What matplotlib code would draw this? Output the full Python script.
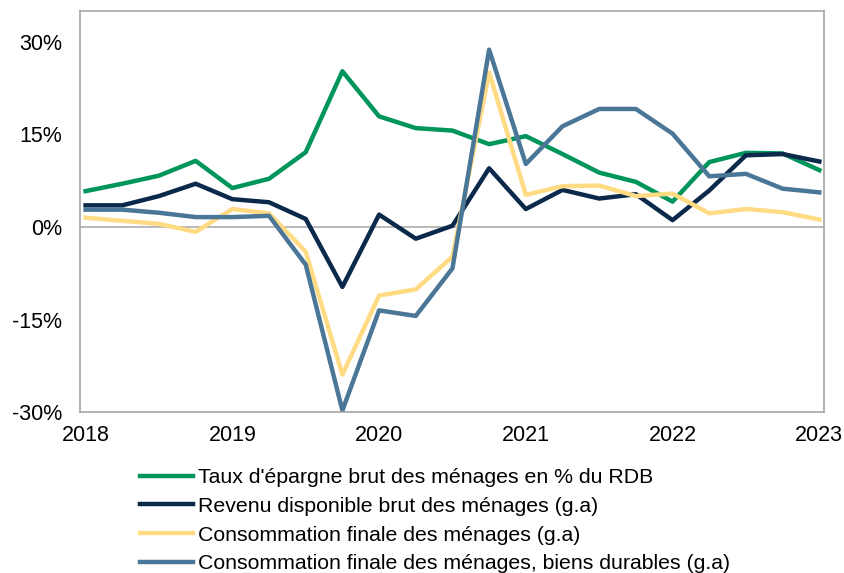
import matplotlib
matplotlib.use("Agg")
import matplotlib.pyplot as plt
from matplotlib.ticker import FuncFormatter
import numpy as np

plt.rcParams['font.family'] = ['Liberation Sans', 'DejaVu Sans']

# quarterly points, 2018 -> 2023
quarters = np.arange(2018, 2023.01, 0.25)

# values in %
epargne = [5.8, 7.0, 8.3, 10.7, 6.3, 7.8, 12.1, 25.2, 17.9, 16.0, 15.6,
           13.4, 14.7, 11.8, 8.8, 7.3, 4.1, 10.5, 12.0, 11.9, 9.2]
revenu = [3.5, 3.5, 5.0, 7.0, 4.5, 4.0, 1.3, -9.7, 2.0, -1.9, 0.2,
          9.5, 2.9, 6.0, 4.6, 5.3, 1.1, 5.9, 11.6, 11.8, 10.6]
conso = [1.5, 1.0, 0.5, -0.8, 2.9, 2.2, -4.0, -23.9, -11.1, -10.1, -4.8,
         25.0, 5.2, 6.6, 6.7, 5.0, 5.4, 2.2, 2.9, 2.4, 1.2]
durables = [2.8, 2.8, 2.3, 1.6, 1.6, 1.8, -6.1, -29.7, -13.5, -14.4, -6.7,
            28.7, 10.2, 16.3, 19.1, 19.1, 15.1, 8.2, 8.6, 6.2, 5.6]

labels = ["Taux d'épargne brut des ménages en % du RDB",
          "Revenu disponible brut des ménages (g.a)",
          "Consommation finale des ménages (g.a)",
          "Consommation finale des ménages, biens durables (g.a)"]
colors = ['#00955A', '#0B2A4B', '#FFDB84', '#4A7697']

year_ticks = [2018, 2019, 2020, 2021, 2022, 2023]
pct_ticks = [-30, -15, 0, 15, 30]

fig = plt.figure(figsize=(8.45, 5.73), dpi=100)
ax = fig.add_axes([0.0947, 0.2804, 0.8808, 0.7009])

ax.axhline(0, color='#A6A6A6', lw=1.1, zorder=1)
for ser, lab, col in zip([epargne, revenu, conso, durables], labels, colors):
    ax.plot(quarters, ser, color=col, lw=3.2, label=lab, zorder=2)

ax.set_xlim(2017.962, 2023.034)
ax.set_ylim(-30, 35)
ax.set_xticks(year_ticks)
ax.set_yticks(pct_ticks)
ax.yaxis.set_major_formatter(FuncFormatter(lambda v, p: '%d%%' % v))
ax.tick_params(axis='both', length=0, labelsize=15.5)
ax.tick_params(axis='y', pad=13)
ax.tick_params(axis='x', pad=9)
for s in ax.spines.values():
    s.set_color('#A6A6A6')
    s.set_linewidth(1.2)

fig.legend(loc='upper left', bbox_to_anchor=(0.1657, 0.183), frameon=False,
           fontsize=15.3, handlelength=2.5, handletextpad=0.24,
           labelspacing=0.46, borderpad=0, borderaxespad=0)

fig.savefig('out.png', dpi=100)
